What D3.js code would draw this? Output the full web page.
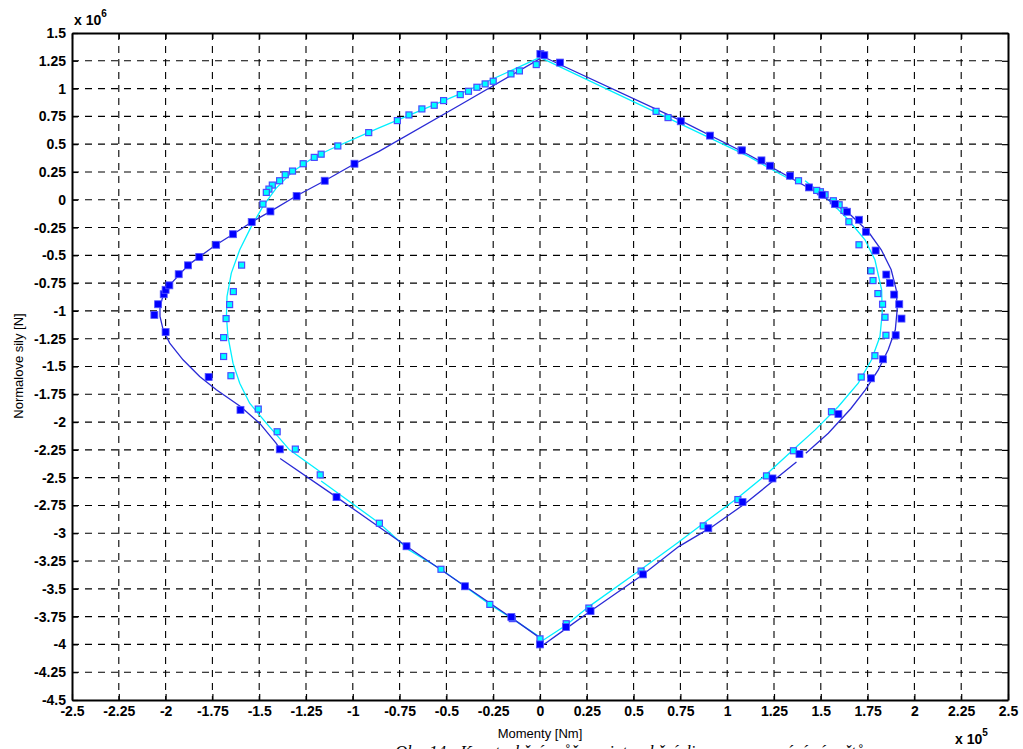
<!DOCTYPE html>
<html>
<head>
<meta charset="utf-8">
<script src="https://cdn.jsdelivr.net/npm/d3@7"></script>
<style>
  body { margin: 0; background: #fff; }
  svg text { font-family: "Liberation Sans", Arial, sans-serif; }
</style>
</head>
<body>
<div id="chart"></div>
<script>
// values are in x 10^5 Nm (moments) and x 10^6 N (normal forces)
const xTicks = [-2.5, -2.25, -2, -1.75, -1.5, -1.25, -1, -0.75, -0.5, -0.25, 0, 0.25, 0.5, 0.75, 1, 1.25, 1.5, 1.75, 2, 2.25, 2.5];
const yTicks = [1.5, 1.25, 1, 0.75, 0.5, 0.25, 0, -0.25, -0.5, -0.75, -1, -1.25, -1.5, -1.75, -2, -2.25, -2.5, -2.75, -3, -3.25, -3.5, -3.75, -4, -4.25, -4.5];

// dark blue squares
const darkPoints = [
  [0.002, 1.312], [0.023, 1.30], [0.107, 1.234], [0.752, 0.706], [0.908, 0.577], [1.079, 0.444],
  [1.183, 0.354], [1.229, 0.306], [1.336, 0.216], [1.437, 0.111], [1.508, 0.045], [1.576, -0.039],
  [1.64, -0.108], [1.704, -0.18], [1.741, -0.288], [1.793, -0.457], [1.85, -0.673], [1.869, -0.748],
  [1.892, -0.853], [1.919, -0.94], [1.931, -1.069], [1.90, -1.219], [1.832, -1.435], [1.768, -1.606],
  [1.594, -1.928], [1.386, -2.288], [1.242, -2.507], [1.082, -2.72], [0.899, -2.955], [0.55, -3.37],
  [0.27, -3.70], [0.139, -3.844], [0.0, -4.0], [-0.153, -3.754], [-0.401, -3.477], [-0.713, -3.117],
  [-1.087, -2.675], [-1.39, -2.245], [-1.60, -1.89], [-1.77, -1.595], [-2.0, -1.19], [-2.06, -1.036],
  [-2.04, -0.94], [-2.01, -0.85], [-2.0, -0.81], [-1.98, -0.77], [-1.93, -0.67], [-1.88, -0.59],
  [-1.82, -0.514], [-1.73, -0.405], [-1.64, -0.31], [-1.54, -0.201], [-1.44, -0.105], [-1.30, 0.033],
  [-1.15, 0.171], [-0.991, 0.324]
];

// cyan squares
const cyanPoints = [
  [-0.02, 1.216], [-0.11, 1.159], [-0.155, 1.132], [-0.25, 1.066], [-0.293, 1.042], [-0.337, 1.012],
  [-0.382, 0.976], [-0.426, 0.946], [-0.515, 0.892], [-0.565, 0.85], [-0.631, 0.817], [-0.70, 0.763],
  [-0.762, 0.712], [-0.915, 0.604], [-1.08, 0.484], [-1.169, 0.41], [-1.206, 0.381], [-1.265, 0.324],
  [-1.322, 0.258], [-1.361, 0.225], [-1.391, 0.171], [-1.43, 0.132], [-1.448, 0.096], [-1.462, 0.066],
  [-1.48, -0.039], [-1.594, -0.588], [-1.638, -0.826], [-1.658, -0.943], [-1.677, -1.069], [-1.69, -1.24],
  [-1.69, -1.41], [-1.651, -1.583], [-1.505, -1.883], [-1.404, -2.087], [-1.307, -2.243], [-1.174, -2.475],
  [-0.858, -2.91], [-0.529, -3.324], [-0.268, -3.64], [-0.148, -3.768], [0.0, -3.95],
  [0.14, -3.814], [0.261, -3.673], [0.54, -3.34], [0.872, -2.934], [1.057, -2.697], [1.21, -2.484],
  [1.354, -2.258], [1.557, -1.907], [1.716, -1.595], [1.789, -1.403], [1.848, -1.219], [1.843, -1.057],
  [1.83, -0.94], [1.805, -0.844], [1.779, -0.727], [1.768, -0.64], [1.704, -0.405], [1.65, -0.198],
  [1.624, -0.096], [1.598, -0.045], [1.567, -0.009], [1.523, 0.045], [1.498, 0.072], [1.478, 0.084],
  [1.381, 0.171], [1.074, 0.445], [0.684, 0.739], [0.62, 0.795]
];

// fitted curves
const darkLines = [
  [[0.0, 1.27], [-0.43, 0.85], [-0.86, 0.435], [-0.99, 0.324], [-1.15, 0.171], [-1.30, 0.036], [-1.44, -0.105],
   [-1.54, -0.2], [-1.64, -0.31], [-1.73, -0.405], [-1.82, -0.514], [-1.88, -0.59], [-1.93, -0.68],
   [-1.98, -0.77], [-2.015, -0.87], [-2.03, -0.97], [-2.03, -1.05], [-2.013, -1.17], [-1.978, -1.29],
   [-1.907, -1.44], [-1.818, -1.59], [-1.729, -1.71], [-1.60, -1.86], [-1.498, -2.01], [-1.41, -2.19],
   [-1.385, -2.25]],
  [[-1.388, -2.327], [-1.087, -2.675], [-0.713, -3.117], [-0.40, -3.477], [-0.155, -3.757], [-0.01, -3.93]],
  [[0.0, -4.025], [0.137, -3.86], [0.261, -3.71], [0.545, -3.378], [0.741, -3.12], [0.918, -2.943],
   [1.096, -2.733], [1.274, -2.49], [1.37, -2.36]],
  [[1.42, -2.28], [1.54, -2.1], [1.66, -1.88], [1.738, -1.71], [1.807, -1.53], [1.86, -1.35], [1.898, -1.17],
   [1.908, -0.99], [1.903, -0.81], [1.876, -0.63], [1.823, -0.45], [1.754, -0.288], [1.647, -0.117],
   [1.471, 0.072], [1.29, 0.243], [1.114, 0.405], [0.741, 0.72], [0.0, 1.30]]
];

const cyanLines = [
  [[0.0, 1.28], [-0.43, 0.95], [-0.86, 0.646], [-1.125, 0.45], [-1.214, 0.376], [-1.32, 0.255],
   [-1.409, 0.105], [-1.48, -0.06], [-1.542, -0.24], [-1.604, -0.45], [-1.649, -0.66], [-1.672, -0.87],
   [-1.675, -1.05], [-1.667, -1.23], [-1.64, -1.47], [-1.604, -1.65], [-1.551, -1.83], [-1.462, -2.01],
   [-1.338, -2.25], [-1.174, -2.447]],
  [[-1.169, -2.53], [-0.858, -2.91], [-0.70, -3.15], [-0.529, -3.324], [-0.268, -3.64], [-0.148, -3.768],
   [-0.005, -3.93]],
  [[0.0, -3.98], [0.137, -3.83], [0.261, -3.66], [0.545, -3.32], [0.741, -3.078], [0.872, -2.913],
   [1.057, -2.68], [1.21, -2.47], [1.354, -2.246], [1.47, -2.07], [1.594, -1.86], [1.70, -1.65],
   [1.771, -1.44], [1.816, -1.23], [1.828, -1.02], [1.825, -0.81], [1.789, -0.54], [1.736, -0.36],
   [1.647, -0.18], [1.523, 0.03], [1.416, 0.171]],
  [[0.0, 1.28], [0.741, 0.69], [1.114, 0.39], [1.29, 0.225], [1.34, 0.18]]
];

const W = 1023, H = 749;
const plotLeft = 72, plotRight = 1008, plotTop = 33, plotBottom = 700;

const svg = d3.select("#chart").append("svg")
  .attr("width", W).attr("height", H);

const x = d3.scaleLinear().domain([-2.5, 2.5]).range([plotLeft, plotRight]);
const y = d3.scaleLinear().domain([-4.5, 1.5]).range([plotBottom, plotTop]);

// grid
const grid = svg.append("g")
  .attr("stroke", "#000").attr("stroke-width", 1.1).attr("stroke-dasharray", "7,6");
grid.selectAll(".gx").data(xTicks.slice(1, -1)).join("line")
  .attr("x1", d => x(d)).attr("x2", d => x(d)).attr("y1", plotTop).attr("y2", plotBottom);
grid.selectAll(".gy").data(yTicks.slice(1, -1)).join("line")
  .attr("y1", d => y(d)).attr("y2", d => y(d)).attr("x1", plotLeft).attr("x2", plotRight);

// curves
const line = d3.line().x(d => x(d[0])).y(d => y(d[1]));
svg.append("g").selectAll("path").data(cyanLines).join("path")
  .attr("d", line).attr("fill", "none").attr("stroke", "#00f0ff").attr("stroke-width", 1.3);
svg.append("g").selectAll("path").data(darkLines).join("path")
  .attr("d", line).attr("fill", "none").attr("stroke", "#2a2ad6").attr("stroke-width", 1.3);

// markers
svg.append("g").selectAll("rect").data(cyanPoints).join("rect")
  .attr("x", d => x(d[0]) - 3).attr("y", d => y(d[1]) - 3)
  .attr("width", 6).attr("height", 6)
  .attr("fill", "#00ffff").attr("stroke", "#4a4aff").attr("stroke-width", 1.2);
svg.append("g").selectAll("rect").data(darkPoints).join("rect")
  .attr("x", d => x(d[0]) - 3.5).attr("y", d => y(d[1]) - 3.5)
  .attr("width", 7).attr("height", 7)
  .attr("fill", "#0000ff").attr("stroke", "#5555ff").attr("stroke-width", 0.8);

// axes with inward ticks
const fmt = d => String(d);
svg.append("g").attr("transform", `translate(0,${plotBottom})`)
  .call(d3.axisBottom(x).tickValues(xTicks).tickFormat(fmt).tickSizeInner(-6).tickSizeOuter(0).tickPadding(6));
svg.append("g").attr("transform", `translate(0,${plotTop})`)
  .call(d3.axisTop(x).tickValues(xTicks).tickFormat("").tickSizeInner(-6).tickSizeOuter(0));
svg.append("g").attr("transform", `translate(${plotLeft},0)`)
  .call(d3.axisLeft(y).tickValues(yTicks).tickFormat(fmt).tickSizeInner(-6).tickSizeOuter(0).tickPadding(6));
svg.append("g").attr("transform", `translate(${plotRight},0)`)
  .call(d3.axisRight(y).tickValues(yTicks).tickFormat("").tickSizeInner(-6).tickSizeOuter(0));

svg.selectAll(".domain").attr("stroke", "#000").attr("stroke-width", 2);
svg.selectAll(".tick line").attr("stroke", "#000").attr("stroke-width", 1.2);
svg.selectAll(".tick text")
  .attr("fill", "#000")
  .style("font-size", "14px")
  .style("font-weight", "bold")
  .style("font-family", "'Liberation Sans', Arial, sans-serif");

// exponent labels
const e6 = svg.append("text").attr("x", 74).attr("y", 25)
  .style("font-size", "14px").style("font-weight", "bold");
e6.append("tspan").text("x 10");
e6.append("tspan").attr("dy", -8).style("font-size", "10px").text("6");

const e5 = svg.append("text").attr("x", 955).attr("y", 744)
  .style("font-size", "14px").style("font-weight", "bold");
e5.append("tspan").text("x 10");
e5.append("tspan").attr("dy", -8).style("font-size", "10px").text("5");

// axis titles
svg.append("text").attr("x", 540).attr("y", 738)
  .attr("text-anchor", "middle").style("font-size", "13px")
  .text("Momenty [Nm]");
svg.append("text")
  .attr("transform", "translate(23,366) rotate(-90)")
  .attr("text-anchor", "middle").style("font-size", "13px")
  .text("Normalove sily [N]");

// caption of the page, cut at the bottom edge
svg.append("text").attr("x", 395).attr("y", 757)
  .style("font-family", "'Liberation Serif', 'Times New Roman', serif")
  .style("font-style", "italic").style("font-size", "17px")
  .text("Obr. 14 - Konstrukční průřez – interakční diagram, srovnání výpočtů");
</script>
</body>
</html>
